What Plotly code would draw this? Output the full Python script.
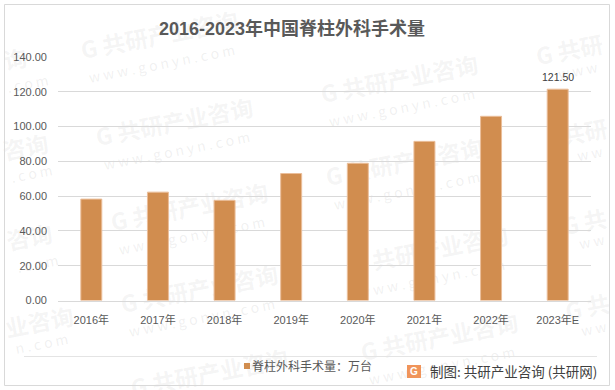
import plotly.graph_objects as go

categories = ["2016年", "2017年", "2018年", "2019年", "2020年", "2021年", "2022年", "2023年E"]
values = [58.3, 62.3, 57.6, 73.0, 78.9, 91.5, 105.9, 121.5]
point_labels = ["", "", "", "", "", "", "", "121.50"]
y_ticks = [0, 20, 40, 60, 80, 100, 120, 140]
series_name = "脊柱外科手术量：万台"
title_text = "2016-2023年中国脊柱外科手术量"
source_text = "制图: 共研产业咨询 (共研网)"
watermark_cn = "G 共研产业咨询"
watermark_en = "w w w . g o n y n . c o m"

W, H = 615, 390
X0, X1, Y0, Y1 = 58, 591, 57, 300.5
FONT = "Liberation Sans, Noto Sans CJK SC, sans-serif"
CJK = "Noto Sans CJK SC, sans-serif"
BAR = "#D18D4F"


def px(x):
    return x / W


def py(y):
    return 1 - y / H


fig = go.Figure(go.Bar(
    x=categories, y=values, name=series_name, showlegend=False,
    marker=dict(color=BAR, line=dict(color="#EBBE9A", width=1)),
    cliponaxis=False,
    width=0.315,
))
fig.add_trace(go.Scatter(
    x=[None], y=[None], mode="markers", name=series_name, showlegend=True,
    marker=dict(symbol="square", size=6, color="rgba(0,0,0,0)"),
))

shapes = []


def stamp(text, cx, cy, size, color):
    shapes.append(dict(
        type="rect", xref="paper", yref="paper",
        x0=px(cx - 100), x1=px(cx + 100), y0=py(cy + 20), y1=py(cy - 20),
        fillcolor="rgba(0,0,0,0)", line=dict(width=0), layer="below",
        label=dict(text=text, textangle=-11, textposition="middle center",
                   font=dict(family=CJK, size=size, color=color)),
    ))


WM_CN = "rgba(150,150,150,0.10)"
WM_EN = "rgba(150,150,150,0.14)"
full_marks = [(160, 38), (175, 125), (190, 210), (200, 292), (400, 82),
              (405, 165), (430, 253), (440, 340)]
for mx, my in full_marks:
    stamp("<b>" + watermark_cn + "</b>", mx, my, 23, WM_CN)
    stamp(watermark_en, mx + 2, my + 27, 14, WM_EN)
stamp("<b>" + watermark_cn + "</b>", 210, 376, 23, WM_CN)
edge_marks = [("询", 16, 62, ". c o m", 28, 85), ("咨询", 26, 150, ". c o m", 32, 175),
              ("咨询", 30, 240, ". c o m", 38, 265), ("业咨询", 40, 325, "n . c o m", 42, 345),
              ("G 共研", 570, 53, "w w w", 578, 72), ("共研", 585, 135, "w w", 590, 155),
              ("G 共", 585, 225, "w w", 592, 243), ("G 共", 588, 310, "w w", 594, 330)]
for t, tx, ty, e, ex, ey in edge_marks:
    stamp("<b>" + t + "</b>", tx, ty, 23, WM_CN)
    stamp(e, ex, ey, 14, WM_EN)

shapes += [
    dict(type="rect", xref="paper", yref="paper", x0=px(4.5), x1=px(609.5), y0=py(385.5), y1=py(4.5),
         line=dict(color="#D9D9D9", width=1), layer="below"),
    dict(type="line", xref="paper", yref="paper", x0=px(24), x1=px(597), y0=py(356.5), y1=py(356.5),
         line=dict(color="#E4E4E4", width=1), layer="below"),
    dict(type="rect", xref="paper", yref="paper", x0=px(244), x1=px(250), y0=py(369), y1=py(363),
         fillcolor=BAR, line=dict(width=0)),
    dict(type="rect", xref="paper", yref="paper", x0=px(407), x1=px(421), y0=py(378), y1=py(365),
         fillcolor="#F0945A", line=dict(width=0)),
]

annotations = [
    dict(x=px(291.5), y=py(29), xref="paper", yref="paper", showarrow=False,
         xanchor="center", yanchor="middle",
         text="<b>" + title_text + "</b>", font=dict(family=FONT, size=18, color="#595959")),
    dict(x=px(428), y=py(370.5), xref="paper", yref="paper", showarrow=False,
         xanchor="left", yanchor="middle",
         text=source_text, font=dict(family=CJK, size=13.5, color="#404040")),
    dict(x=px(414), y=py(371.5), xref="paper", yref="paper", showarrow=False,
         xanchor="center", yanchor="middle",
         text="<b>G</b>", font=dict(family=FONT, size=10, color="#FFFFFF")),
]
for cat, val, lab in zip(categories, values, point_labels):
    if lab:
        annotations.append(dict(x=cat, y=val, xref="x", yref="y", showarrow=False, yanchor="bottom",
                                yshift=4, text=lab, font=dict(family=FONT, size=10.5, color="#404040")))

fig.update_layout(
    width=W, height=H, autosize=False,
    margin=dict(l=0, r=0, t=0, b=0, autoexpand=False),
    paper_bgcolor="white", plot_bgcolor="rgba(0,0,0,0)",
    showlegend=True,
    legend=dict(x=px(212), y=py(366), xanchor="left", yanchor="middle", xref="paper", yref="paper",
                orientation="h", bgcolor="rgba(0,0,0,0)", itemwidth=30,
                font=dict(family=CJK, size=12, color="#595959")),
    annotations=annotations, shapes=shapes,
    xaxis=dict(domain=[px(X0), px(X1)], type="category", showgrid=False, ticks="", linecolor="#D9D9D9",
               linewidth=1, ticklabelstandoff=9,
               tickfont=dict(family=FONT, size=11, color="#595959")),
    yaxis=dict(domain=[py(Y1), py(Y0)], range=[0, 140], tickvals=y_ticks, tickformat=".2f",
               gridcolor="#D9D9D9", gridwidth=1, zeroline=False, showline=False, ticks="",
               ticklabelstandoff=10,
               tickfont=dict(family=FONT, size=11, color="#595959")),
)

fig.write_html("out.html", config={"displayModeBar": False},
               post_script="document.body.style.margin='0';document.body.style.overflow='hidden';")
